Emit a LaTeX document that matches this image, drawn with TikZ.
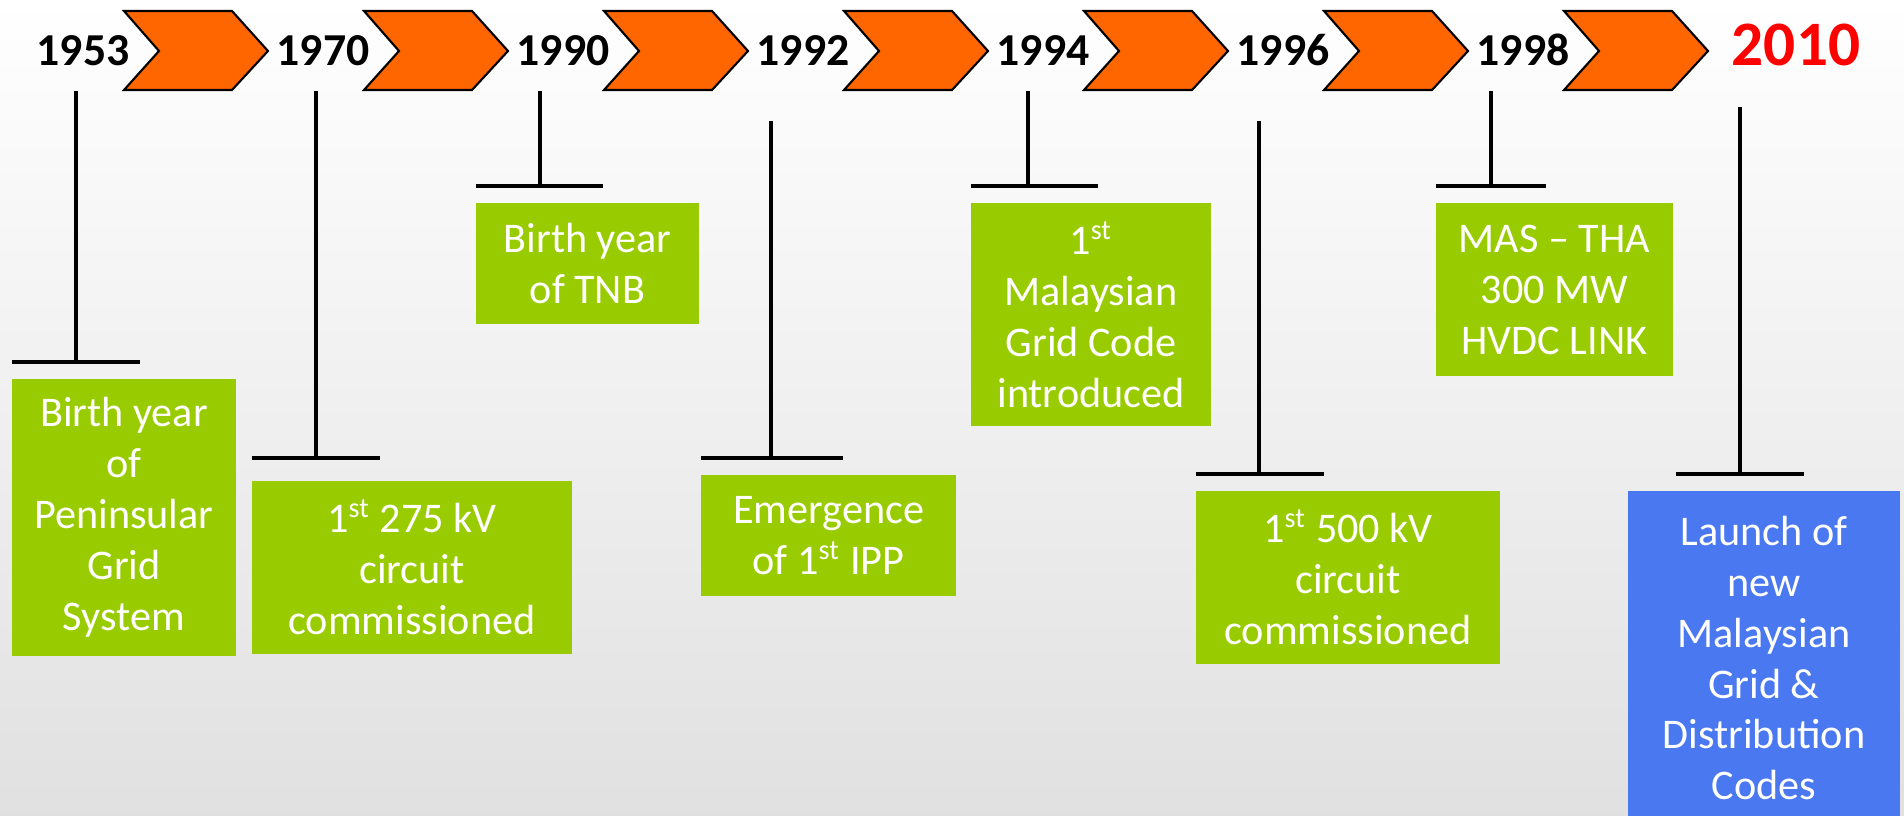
\documentclass[tikz,border=0pt]{standalone}
\usepackage{fontspec}
\setmainfont{Carlito}
\definecolor{chev}{HTML}{FF6600}
\definecolor{leaf}{HTML}{99CC00}
\definecolor{launch}{HTML}{4A78F0}
\begin{document}
\begin{tikzpicture}[x=0.01cm,y=-0.01cm,
        year/.style={anchor=base,font=\fontsize{13}{15}\selectfont\bfseries},
        gbox/.style={fill=leaf,text=white,align=center,inner sep=0pt,font=\fontsize{12}{14.5}\selectfont},
        tee/.style={line width=0.9pt}]
    \clip (0,0) rectangle (1904,815);
    \shade[top color=white,bottom color=black!12] (0,0) rectangle (1904,815);
    % chevrons
    \foreach \i in {0,...,6}
        \draw[fill=chev,line width=0.6pt]
            ({124+240*\i},11) -- ++(108,0) -- ++(36,40) -- ++(-36,39) -- ++(-108,0) -- ++(35,-39) -- cycle;
    % years
    \foreach \yr [count=\i from 0] in {1953,1970,1990,1992,1994,1996,1998}
        \node[year] (y\yr) at ({83+240*\i},65) {\yr};
    \node[year,text=red,font=\fontsize{18}{20}\selectfont\bfseries] (y2010) at (1796,65) {2010};
    % stems and tees
    \foreach \yr/\sx/\sy/\ty/\ta/\tb in {1953/76/91/362/12/140, 1970/316/91/458/252/380,
            1990/540/91/186/476/603, 1992/771/121/458/701/843, 1994/1028/91/186/971/1098,
            1996/1259/121/474/1196/1324, 1998/1491/91/186/1436/1546, 2010/1740/107/474/1676/1804}{
        \coordinate (s\yr) at (\sx,\sy);
        \coordinate (t\yr) at (\sx,\ty);
        \coordinate (tl\yr) at (\ta,\ty);
        \coordinate (tr\yr) at (\tb,\ty);
        \draw[tee] (s\yr) -- (t\yr);
        \draw[tee] (tl\yr) -- (tr\yr);
    }
    % boxes
    \node[gbox,minimum width=2.24cm,minimum height=2.77cm] (b1953) at (124,517.5)
        {Birth year\\of\\Peninsular\\Grid\\System};
    \node[gbox,minimum width=3.2cm,minimum height=1.73cm] (b1970) at (412,567.5)
        {1\textsuperscript{st} 275 kV\\circuit\\commissioned};
    \node[gbox,minimum width=2.23cm,minimum height=1.21cm] (b1990) at (587.5,263.5)
        {Birth year\\of TNB};
    \node[gbox,minimum width=2.55cm,minimum height=1.21cm] (b1992) at (828.5,535.5)
        {Emergence\\of 1\textsuperscript{st} IPP};
    \node[gbox,minimum width=2.4cm,minimum height=2.23cm] (b1994) at (1091,314.5)
        {1\textsuperscript{st}\\Malaysian\\Grid Code\\introduced};
    \node[gbox,minimum width=3.04cm,minimum height=1.73cm] (b1996) at (1348,577.5)
        {1\textsuperscript{st} 500 kV\\circuit\\commissioned};
    \node[gbox,minimum width=2.37cm,minimum height=1.73cm] (b1998) at (1554.5,289.5)
        {MAS -- THA\\300 MW\\HVDC LINK};
    \node[gbox,fill=launch,minimum width=2.72cm,minimum height=3.34cm] (b2010) at (1764,658)
        {Launch of\\new\\Malaysian\\Grid \&\\Distribution\\Codes};
\end{tikzpicture}
\end{document}
